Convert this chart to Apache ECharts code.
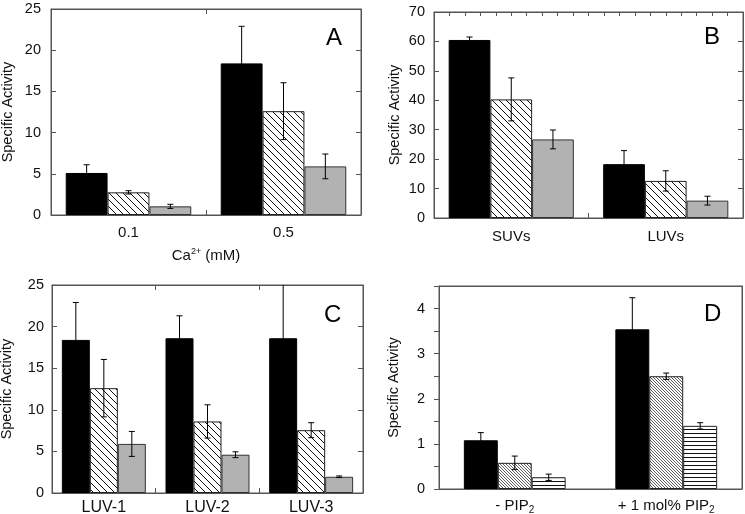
<!DOCTYPE html>
<html>
<head>
<meta charset="utf-8">
<script src="https://cdn.jsdelivr.net/npm/echarts@6/dist/echarts.min.js"></script>
<style>html,body{margin:0;padding:0;background:#fff;}#c{width:745px;height:514px;}</style>
</head>
<body>
<div id="c"></div>
<script>
// ---- Data ----
const catsA = ['0.1', '0.5'];
const aBlack = [5.1, 18.4];  const aBlackErr = [1.0, 4.5];
const aHatch = [2.75, 12.6]; const aHatchErr = [0.2, 3.45];
const aGray  = [1.05, 5.9];  const aGrayErr  = [0.25, 1.5];

const catsB = ['SUVs', 'LUVs'];
const bBlack = [60.5, 18.3]; const bBlackErr = [1.0, 4.6];
const bHatch = [40.3, 12.6]; const bHatchErr = [7.3, 3.45];
const bGray  = [26.7, 5.9];  const bGrayErr  = [3.2, 1.5];

const catsC = ['LUV-1', 'LUV-2', 'LUV-3'];
const cBlack = [18.4, 18.6, 18.6]; const cBlackErr = [4.5, 2.7, 7.5];
const cHatch = [12.6, 8.6, 7.55];  const cHatchErr = [3.45, 2.0, 0.9];
const cGray  = [5.9, 4.6, 1.95];   const cGrayErr  = [1.5, 0.35, 0.1];

const catsD = ['- PIP{s|2}', '+ 1 mol% PIP{s|2}'];
const dBlack = [1.08, 3.54]; const dBlackErr = [0.17, 0.70];
const dHatch = [0.58, 2.50]; const dHatchErr = [0.15, 0.07];
const dStripe = [0.26, 1.40]; const dStripeErr = [0.07, 0.07];

const yTicksA = [0, 25, 5];
const yTicksB = [0, 70, 10];
const yTicksC = [0, 25, 5];
const yTicksD = [0, 4.5, 0.5];

// ---- Patterns ----
function makeDiag(s, lw, color) {
  const c = document.createElement('canvas'); c.width = s; c.height = s;
  const g = c.getContext('2d');
  g.fillStyle = '#fff'; g.fillRect(0, 0, s, s);
  g.strokeStyle = color; g.lineWidth = lw;
  g.beginPath();
  g.moveTo(-1, -1); g.lineTo(s + 1, s + 1);
  g.moveTo(-1, s - 1); g.lineTo(1, s + 1);
  g.moveTo(s - 1, -1); g.lineTo(s + 1, 1);
  g.stroke();
  return c;
}
function makeHoriz(s, color) {
  const c = document.createElement('canvas'); c.width = s; c.height = s;
  const g = c.getContext('2d');
  g.fillStyle = '#fff'; g.fillRect(0, 0, s, s);
  g.fillStyle = color; g.fillRect(0, 1, s, 1);
  return c;
}
const hatchABC = { image: makeDiag(7, 1, '#111'), repeat: 'repeat' };
const hatchD = { image: makeDiag(3, 0.8, '#333'), repeat: 'repeat' };
const stripeD = { image: makeHoriz(4, '#111'), repeat: 'repeat' };
const GRAY = '#b2b2b2';

const FONT = 'Liberation Sans, Arial, sans-serif';
const AX = '#555';
function ls() { return { color: AX, width: 1 }; }
function lab(extra) { return Object.assign({ color: '#111', fontFamily: FONT }, extra); }

// ---- Error bar renderer ----
function errRender(offset, pct) {
  return function (params, api) {
    const cat = api.value(0), v = api.value(1), e = api.value(2);
    const band = api.size([1, 0])[0];
    const bw = band * pct;
    const cx = api.coord([cat, v])[0] + offset * bw;
    const cs = params.coordSys;
    let yHi = api.coord([cat, v + e])[1];
    const yLo = api.coord([cat, v - e])[1];
    const capHi = yHi >= cs.y;
    yHi = Math.max(yHi, cs.y);
    const hw = 3;
    const st = { stroke: '#000', lineWidth: 1 };
    const ch = [{ type: 'line', shape: { x1: cx, y1: yHi, x2: cx, y2: yLo }, style: st }];
    if (capHi) ch.push({ type: 'line', shape: { x1: cx - hw, y1: yHi, x2: cx + hw, y2: yHi }, style: st });
    ch.push({ type: 'line', shape: { x1: cx - hw, y1: yLo, x2: cx + hw, y2: yLo }, style: st });
    return { type: 'group', children: ch };
  };
}

const series = [];
function addPanel(p, vals, errs, fills, borders, pct) {
  for (let k = 0; k < 3; k++) {
    series.push({
      type: 'bar', xAxisIndex: 2 * p, yAxisIndex: 2 * p,
      data: vals[k], barWidth: (pct * 100) + '%', barGap: '0%',
      itemStyle: { color: fills[k], borderColor: borders[k], borderWidth: 1 },
      silent: true, z: 2
    });
  }
  for (let k = 0; k < 3; k++) {
    series.push({
      type: 'custom', xAxisIndex: 2 * p, yAxisIndex: 2 * p, z: 5,
      renderItem: errRender(k - 1, pct),
      encode: { x: 0, y: 1 },
      data: vals[k].map((v, i) => [i, v, errs[k][i]]),
      silent: true
    });
  }
}
addPanel(0, [aBlack, aHatch, aGray], [aBlackErr, aHatchErr, aGrayErr], ['#000', hatchABC, GRAY], ['#000', '#222', '#333'], 0.27);
addPanel(1, [bBlack, bHatch, bGray], [bBlackErr, bHatchErr, bGrayErr], ['#000', hatchABC, GRAY], ['#000', '#222', '#333'], 0.27);
addPanel(2, [cBlack, cHatch, cGray], [cBlackErr, cHatchErr, cGrayErr], ['#000', hatchABC, GRAY], ['#000', '#222', '#333'], 0.27);
addPanel(3, [dBlack, dHatch, dStripe], [dBlackErr, dHatchErr, dStripeErr], ['#000', hatchD, stripeD], ['#000', '#222', '#222'], 0.224);

function gridBox(left, top, width, height) {
  return { left, top, width, height, show: true, borderColor: AX, borderWidth: 1,
    backgroundColor: 'rgba(0,0,0,0)', containLabel: false, outerBoundsMode: 'none' };
}
const grids = [
  gridBox(51, 9, 310, 206),
  gridBox(434, 12, 309, 206),
  gridBox(52, 285, 311, 208),
  gridBox(439, 286, 303, 203)
];

function subRich() { return { s: { fontSize: 10, fontFamily: FONT, color: '#111', padding: [9, 0, 0, 0] } }; }

function catBottom(g, cats, margin, fs, showTick) {
  return {
    type: 'category', gridIndex: g, data: cats, position: 'bottom',
    axisLine: { onZero: false, lineStyle: ls() },
    axisTick: { show: showTick, inside: true, length: 5, lineStyle: ls() },
    axisLabel: lab({ interval: 0, margin, fontSize: fs, rich: subRich() }),
    splitLine: { show: false }
  };
}
function catTop(g, cats, showTick) {
  return {
    type: 'category', gridIndex: g, data: cats, position: 'top',
    axisLine: { show: true, onZero: false, lineStyle: ls() },
    axisTick: { show: showTick, inside: true, length: 5, lineStyle: ls() },
    axisLabel: { show: false }, splitLine: { show: false }
  };
}
function yLeft(g, t, margin, nameGap, opts) {
  return Object.assign({
    type: 'value', gridIndex: g, position: 'left', min: t[0], max: t[1], interval: t[2],
    name: 'Specific Activity', nameLocation: 'middle', nameRotate: 90, nameGap,
    nameTextStyle: { fontSize: 14.5, fontFamily: FONT, color: '#111' },
    axisLine: { show: true, onZero: false, lineStyle: ls() },
    axisTick: { show: true, inside: true, length: 5, lineStyle: ls() },
    axisLabel: lab({ margin, fontSize: 14.5 }),
    splitLine: { show: false }
  }, opts || {});
}
function yRight(g, t, showTick) {
  return {
    type: 'value', gridIndex: g, position: 'right', min: t[0], max: t[1], interval: t[2],
    axisLine: { show: true, onZero: false, lineStyle: ls() },
    axisTick: { show: showTick, inside: true, length: 5, lineStyle: ls() },
    axisLabel: { show: false }, splitLine: { show: false }
  };
}

const xAxes = [
  Object.assign(catBottom(0, catsA, 10, 15, true), {
    name: 'Ca{sup|2+} (mM)', nameLocation: 'middle', nameGap: 32,
    nameTextStyle: { fontSize: 15, fontFamily: FONT, color: '#111',
      rich: { sup: { fontSize: 9, fontFamily: FONT, color: '#111', padding: [0, 0, 9, 0] } } }
  }),
  catTop(0, catsA, true),
  catBottom(1, catsB, 11, 15, true),
  { type: 'value', gridIndex: 1, position: 'top', min: 0, max: 20, interval: 1,
    axisLine: { show: true, onZero: false, lineStyle: ls() },
    axisTick: { show: true, inside: true, length: 4, lineStyle: ls() },
    axisLabel: { show: false }, splitLine: { show: false } },
  catBottom(2, catsC, 7, 16, true),
  catTop(2, catsC, true),
  catBottom(3, catsD, 7, 15, false),
  catTop(3, catsD, false)
];
const yAxes = [
  yLeft(0, yTicksA, 10, 36),
  yRight(0, yTicksA, true),
  yLeft(1, yTicksB, 9, 32),
  yRight(1, yTicksB, true),
  yLeft(2, yTicksC, 8, 38),
  yRight(2, yTicksC, true),
  yLeft(3, yTicksD, 14, 38, {
    axisTick: { show: true, inside: false, length: 5, lineStyle: ls() },
    axisLabel: lab({ margin: 14, fontSize: 14.5,
      formatter: v => (Math.abs(v - Math.round(v)) < 1e-9 && v <= 4) ? String(Math.round(v)) : '' })
  }),
  yRight(3, yTicksD, false)
];

const letterStyle = { fontSize: 24, fontFamily: FONT, fill: '#000' };
const option = {
  animation: false,
  grid: grids,
  xAxis: xAxes,
  yAxis: yAxes,
  series,
  graphic: [
    { type: 'text', left: 326, top: 26, style: Object.assign({ text: 'A' }, letterStyle) },
    { type: 'text', left: 704, top: 25, style: Object.assign({ text: 'B' }, letterStyle) },
    { type: 'text', left: 324, top: 303, style: Object.assign({ text: 'C' }, letterStyle) },
    { type: 'text', left: 704, top: 302, style: Object.assign({ text: 'D' }, letterStyle) }
  ]
};
const chart = echarts.init(document.getElementById('c'), null, { renderer: 'canvas' });
chart.setOption(option);
</script>
</body>
</html>
